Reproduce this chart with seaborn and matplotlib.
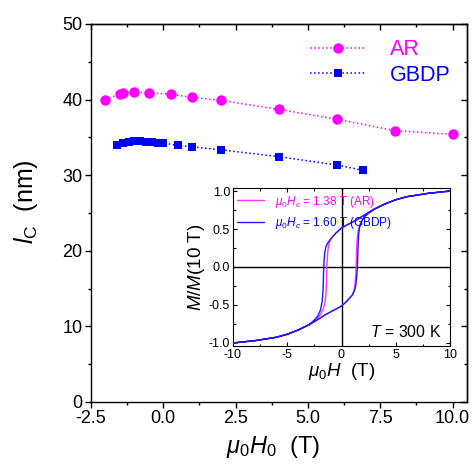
import numpy as np
import pandas as pd
import matplotlib
matplotlib.use("Agg")
import matplotlib.pyplot as plt
from matplotlib.ticker import MultipleLocator
from matplotlib.lines import Line2D
import seaborn as sns

# ---------------- data ----------------
ar_field = [-2.0, -1.5, -1.4, -1.0, -0.5, 0.25, 1.0, 2.0, 4.0, 6.0, 8.0, 10.0]
ar_lc = [40.0, 40.75, 40.9, 40.95, 40.9, 40.7, 40.3, 39.9, 38.7, 37.4, 35.9, 35.4]

gbdp_field = [-1.6, -1.4, -1.2, -1.0, -0.8, -0.6, -0.4, -0.2, 0.0, 0.5, 1.0, 2.0, 4.0, 6.0, 6.9]
gbdp_lc = [33.95, 34.3, 34.45, 34.5, 34.5, 34.45, 34.4, 34.3, 34.25, 33.95, 33.75, 33.35, 32.45, 31.35, 30.65]

# hysteresis loops (inset): descending branch then ascending branch
gbdp_loop_h = [10, 8, 6, 5, 4, 3, 2.5, 2, 1.5, 1, 0.5, 0, -0.5, -1.0, -1.3, -1.45, -1.55, -1.62,
               -1.66, -1.7, -1.78, -1.95, -2.2, -2.6, -3, -4, -5, -6, -8, -10,
               -8, -6, -5, -4, -3, -2.5, -2, -1.5, -1, -0.5, 0, 0.5, 1.0, 1.2, 1.32, 1.42,
               1.48, 1.52, 1.58, 1.66, 1.85, 2.1, 2.5, 3, 4, 5, 6, 8, 10]
gbdp_loop_m = [1.0, 0.97, 0.925, 0.885, 0.83, 0.76, 0.72, 0.675, 0.63, 0.59, 0.555, 0.515, 0.45, 0.37, 0.31, 0.26, 0.18, 0.05,
               -0.1, -0.3, -0.45, -0.57, -0.65, -0.71, -0.76, -0.83, -0.885, -0.925, -0.97, -1.0,
               -0.97, -0.925, -0.885, -0.83, -0.76, -0.72, -0.675, -0.63, -0.59, -0.555, -0.515, -0.45, -0.37, -0.31, -0.24, -0.1,
               0.05, 0.25, 0.42, 0.52, 0.6, 0.66, 0.71, 0.76, 0.83, 0.885, 0.925, 0.97, 1.0]

ar_loop_h = [10, 8, 6, 5, 4, 3, 2.5, 2, 1.5, 1, 0.5, 0, -0.5, -1.0, -1.15, -1.25, -1.32, -1.36,
             -1.39, -1.43, -1.52, -1.7, -2.0, -2.4, -3, -4, -5, -6, -8, -10,
             -8, -6, -5, -4, -3, -2.5, -2, -1.5, -1, -0.5, 0, 0.5, 1.0, 1.15, 1.25, 1.32,
             1.36, 1.39, 1.43, 1.52, 1.7, 2.0, 2.4, 3, 4, 5, 6, 8, 10]
ar_loop_m = [1.0, 0.97, 0.925, 0.885, 0.83, 0.76, 0.72, 0.675, 0.63, 0.59, 0.55, 0.51, 0.445, 0.365, 0.31, 0.22, 0.08, -0.05,
             -0.2, -0.35, -0.47, -0.56, -0.64, -0.70, -0.76, -0.83, -0.885, -0.925, -0.97, -1.0,
             -0.97, -0.925, -0.885, -0.83, -0.76, -0.72, -0.675, -0.63, -0.59, -0.55, -0.51, -0.445, -0.365, -0.31, -0.22, -0.08,
             0.05, 0.2, 0.35, 0.47, 0.56, 0.64, 0.70, 0.76, 0.83, 0.885, 0.925, 0.97, 1.0]

series_labels = ["AR", "GBDP"]
loop_labels = [r"$\mu_0H_c$ = 1.38 T (AR)", r"$\mu_0H_c$ = 1.60 T (GBDP)"]
MAGENTA = "#FF00FF"
BLUE = "#0000FF"

# ---------------- style ----------------
sns.set_theme(style="ticks")
plt.rcParams["font.family"] = ["Liberation Sans", "DejaVu Sans"]
plt.rcParams["mathtext.fontset"] = "custom"
plt.rcParams["mathtext.rm"] = "Liberation Sans"
plt.rcParams["mathtext.it"] = "Liberation Sans:italic"
plt.rcParams["mathtext.bf"] = "Liberation Sans:bold"
plt.rcParams["axes.unicode_minus"] = False
plt.rcParams["axes.linewidth"] = 1.0
plt.rcParams["text.color"] = "black"
plt.rcParams["axes.labelcolor"] = "black"
plt.rcParams["xtick.color"] = "black"
plt.rcParams["ytick.color"] = "black"

W, H = 476, 470
fig = plt.figure(figsize=(W / 100, H / 100), dpi=100)
ax = fig.add_axes([91 / W, 1 - 402 / H, 376 / W, 378 / H])

main_df = pd.concat([
    pd.DataFrame({"field": ar_field, "lc": ar_lc, "sample": "AR"}),
    pd.DataFrame({"field": gbdp_field, "lc": gbdp_lc, "sample": "GBDP"}),
])

sns.lineplot(data=main_df[main_df["sample"] == "AR"], x="field", y="lc", ax=ax,
             color=MAGENTA, marker="o", markersize=7.5, markeredgewidth=0,
             linestyle=":", linewidth=1.1, sort=False, estimator=None)
sns.lineplot(data=main_df[main_df["sample"] == "GBDP"], x="field", y="lc", ax=ax,
             color=BLUE, marker="s", markersize=6, markeredgewidth=0,
             linestyle=":", linewidth=1.1, sort=False, estimator=None)

ax.set_xlim(-2.5, 10.5)
ax.set_ylim(0, 50)
ax.xaxis.set_major_locator(MultipleLocator(2.5))
ax.xaxis.set_minor_locator(MultipleLocator(1.25))
ax.yaxis.set_major_locator(MultipleLocator(10))
ax.yaxis.set_minor_locator(MultipleLocator(5))
ax.tick_params(which="major", direction="out", length=4, width=1, labelsize=13, pad=2)
ax.tick_params(which="minor", direction="out", length=2, width=1)
for s in ax.spines.values():
    s.set_visible(True)
    s.set_color("black")

# mirrored inward ticks on top/right
sx = ax.secondary_xaxis("top")
sx.xaxis.set_major_locator(MultipleLocator(2.5))
sx.xaxis.set_minor_locator(MultipleLocator(1.25))
sx.tick_params(which="major", direction="in", length=4, width=1, labeltop=False)
sx.tick_params(which="minor", direction="in", length=2, width=1)
sy = ax.secondary_yaxis("right")
sy.yaxis.set_major_locator(MultipleLocator(10))
sy.yaxis.set_minor_locator(MultipleLocator(5))
sy.tick_params(which="major", direction="in", length=4, width=1, labelright=False)
sy.tick_params(which="minor", direction="in", length=2, width=1)

ax.set_xlabel(r"$\mu_0H_0$  (T)", fontsize=17)
ax.set_ylabel(r"$l_\mathrm{C}$  (nm)", fontsize=18)
ax.xaxis.set_label_coords(0.485, -0.085)
ax.yaxis.set_label_coords(-0.135, 0.53)

handles = [
    Line2D([], [], color=MAGENTA, marker="o", markersize=7.5, markeredgewidth=0, linestyle=":", linewidth=1.1),
    Line2D([], [], color=BLUE, marker="s", markersize=6, markeredgewidth=0, linestyle=":", linewidth=1.1),
]
leg = ax.legend(handles, series_labels, loc="upper left", bbox_to_anchor=(0.582, 0.96),
                frameon=False, fontsize=15.5, handlelength=2.6, handletextpad=1.1,
                labelspacing=0.22, borderpad=0, borderaxespad=0)
for t, c in zip(leg.get_texts(), [MAGENTA, BLUE]):
    t.set_color(c)

# ---------------- inset ----------------
ins = fig.add_axes([233 / W, 1 - 346 / H, 217 / W, 158 / H])
ins.axhline(0, color="black", lw=1, zorder=1)
ins.axvline(0, color="black", lw=1, zorder=1)
loop_df = pd.concat([
    pd.DataFrame({"h": ar_loop_h, "m": ar_loop_m, "sample": "AR", "order": range(len(ar_loop_h))}),
    pd.DataFrame({"h": gbdp_loop_h, "m": gbdp_loop_m, "sample": "GBDP", "order": range(len(gbdp_loop_h))}),
])
sns.lineplot(data=loop_df[loop_df["sample"] == "AR"], x="h", y="m", ax=ins,
             color="#FF33FF", linewidth=1.0, sort=False, estimator=None, zorder=2)
sns.lineplot(data=loop_df[loop_df["sample"] == "GBDP"], x="h", y="m", ax=ins,
             color="#1A1AFF", linewidth=1.0, sort=False, estimator=None, zorder=3)
ins.set_xlim(-10, 10)
ins.set_ylim(-1.04, 1.04)
ins.xaxis.set_major_locator(MultipleLocator(5))
ins.xaxis.set_minor_locator(MultipleLocator(2.5))
ins.yaxis.set_major_locator(MultipleLocator(0.5))
ins.yaxis.set_minor_locator(MultipleLocator(0.25))
ins.tick_params(which="both", direction="in", top=True, right=True, width=0.8, labelsize=9, pad=2)
ins.tick_params(which="major", length=3)
ins.tick_params(which="minor", length=1.8)
for s in ins.spines.values():
    s.set_color("black")
    s.set_linewidth(0.8)
ins.set_xlabel(r"$\mu_0H$  (T)", fontsize=13.5, labelpad=0)
ins.set_ylabel(r"$M$/$M$(10 T)", fontsize=13.5, labelpad=1)
ins.text(0.963, 0.09, r"$T$ = 300 K", transform=ins.transAxes, ha="right", va="center", fontsize=11.5)

ihandles = [Line2D([], [], color="#FF33FF", lw=1.0), Line2D([], [], color="#1A1AFF", lw=1.0)]
ileg = ins.legend(ihandles, loop_labels, loc="upper left", bbox_to_anchor=(0.02, 0.965),
                  frameon=False, fontsize=8.5, handlelength=2.3, handletextpad=0.9,
                  labelspacing=0.45, borderpad=0, borderaxespad=0)
for t, c in zip(ileg.get_texts(), [MAGENTA, BLUE]):
    t.set_color(c)

fig.savefig("out.png", dpi=100)
